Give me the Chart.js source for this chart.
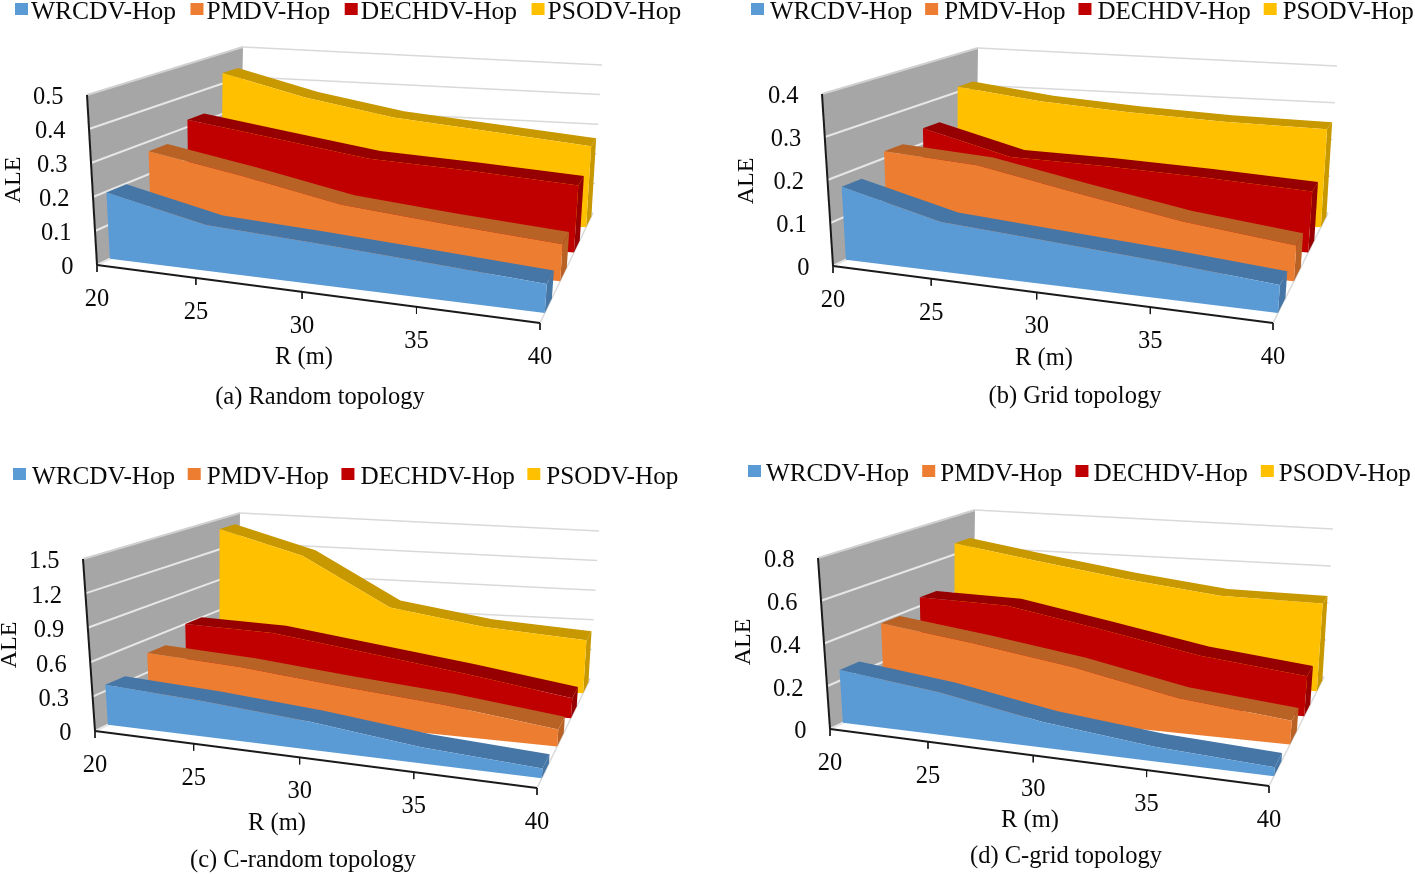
<!DOCTYPE html>
<html>
<head>
<meta charset="utf-8">
<title>ALE vs R</title>
<script src="https://cdn.jsdelivr.net/npm/chart.js@4"></script>
<style>
    html, body { margin: 0; padding: 0; background: #fff; }
    canvas { position: absolute; }
</style>
</head>
<body>
<canvas id="panel-a" width="708" height="437" style="left:0;top:0"></canvas>
<canvas id="panel-b" width="707" height="437" style="left:708px;top:0"></canvas>
<canvas id="panel-c" width="708" height="437" style="left:0;top:437px"></canvas>
<canvas id="panel-d" width="707" height="437" style="left:708px;top:437px"></canvas>
<script>
const seriesNames = ['WRCDV-Hop', 'PMDV-Hop', 'DECHDV-Hop', 'PSODV-Hop'];
const categories = [20, 25, 30, 35, 40];

// values, one list per series and topology
const randomWrcdv = [0.197, 0.13, 0.112, 0.092, 0.071];
const randomPmdv = [0.27, 0.216, 0.155, 0.125, 0.099];
const randomDechdv = [0.323, 0.28, 0.236, 0.219, 0.197];
const randomPsodv = [0.435, 0.368, 0.318, 0.29, 0.26];

const gridWrcdv = [0.172, 0.112, 0.094, 0.076, 0.055];
const gridPmdv = [0.217, 0.199, 0.152, 0.107, 0.077];
const gridDechdv = [0.238, 0.179, 0.172, 0.16, 0.144];
const gridPsodv = [0.314, 0.287, 0.27, 0.258, 0.253];

const cRandomWrcdv = [0.353, 0.3, 0.226, 0.124, 0.071];
const cRandomPmdv = [0.475, 0.42, 0.33, 0.25, 0.137];
const cRandomDechdv = [0.6, 0.57, 0.45, 0.323, 0.176];
const cRandomPsodv = [1.4, 1.18, 0.72, 0.58, 0.51];

const cGridWrcdv = [0.25, 0.193, 0.11, 0.06, 0.035];
const cGridPmdv = [0.39, 0.327, 0.253, 0.155, 0.103];
const cGridDechdv = [0.445, 0.43, 0.343, 0.249, 0.188];
const cGridPsodv = [0.659, 0.589, 0.52, 0.46, 0.45];

const randomTicks = ['0', '0.1', '0.2', '0.3', '0.4', '0.5'];
const gridTicks = ['0', '0.1', '0.2', '0.3', '0.4'];
const cRandomTicks = ['0', '0.3', '0.6', '0.9', '1.2', '1.5'];
const cGridTicks = ['0', '0.2', '0.4', '0.6', '0.8'];

const FRONT_COLORS = ['#5B9BD5', '#ED7D31', '#C00000', '#FFC000'];
const SIDE_COLORS = ['#4676A6', '#B86226', '#960000', '#C89800'];
// where each ribbon starts and ends in depth, 0 = front of the box, 1 = back wall
const DEPTHS = [[0.09, 0.225], [0.38, 0.505], [0.64, 0.75], [0.87, 0.97]];
const FONT = '"Liberation Serif", "Times New Roman", serif';
const TEXT_COLOR = '#0A0A0A';

const panels = [
    {
        id: 'panel-a', left: 0, top: 0, width: 708, height: 437,
        series: [randomWrcdv, randomPmdv, randomDechdv, randomPsodv], ticks: randomTicks,
        box: { flb: [97, 265], flt: [87, 95], blb: [240, 196], blt: [243, 47], frb: [540, 323], frt: [555, 113], brb: [593, 213], brt: [602, 65] },
        legend: { x: 15, y: 19, size: 25.5, textGap: 16, itemGap: 14.5 },
        ale: [14, 180], rTitle: [304, 358], caption: ['(a) Random topology', 320, 398]
    },
    {
        id: 'panel-b', left: 708, top: 0, width: 707, height: 437,
        series: [gridWrcdv, gridPmdv, gridDechdv, gridPsodv], ticks: gridTicks,
        box: { flb: [833, 266], flt: [822, 94], blb: [976, 197], blt: [978, 48], frb: [1273, 323], frt: [1288, 113], brb: [1328, 213], brt: [1337, 66] },
        legend: { x: 751, y: 19, size: 25, textGap: 19, itemGap: 13 },
        ale: [747, 181], rTitle: [1044, 359], caption: ['(b) Grid topology', 1075, 397]
    },
    {
        id: 'panel-c', left: 0, top: 437, width: 708, height: 437,
        series: [cRandomWrcdv, cRandomPmdv, cRandomDechdv, cRandomPsodv], ticks: cRandomTicks,
        box: { flb: [95, 731], flt: [83, 559], blb: [238, 662], blt: [240, 513], frb: [537, 788], frt: [552, 579], brb: [590, 679], brt: [599, 531] },
        legend: { x: 13, y: 484, size: 25.2, textGap: 19, itemGap: 12.5 },
        ale: [10, 645], rTitle: [277, 824], caption: ['(c) C-random topology', 303, 861]
    },
    {
        id: 'panel-d', left: 708, top: 437, width: 707, height: 437,
        series: [cGridWrcdv, cGridPmdv, cGridDechdv, cGridPsodv], ticks: cGridTicks,
        box: { flb: [830, 729], flt: [818, 558], blb: [973, 660], blt: [975, 510], frb: [1269, 786], frt: [1288, 577], brb: [1324, 677], brt: [1333, 529] },
        legend: { x: 748, y: 481, size: 25.2, textGap: 18, itemGap: 13 },
        ale: [744, 642], rTitle: [1030, 821], caption: ['(d) C-grid topology', 1066, 857]
    }
];

const lerp = (a, b, t) => [a[0] + (b[0] - a[0]) * t, a[1] + (b[1] - a[1]) * t];

// R axis is foreshortened towards the left of the box
function warpR(r) {
    const t = (r - categories[0]) / (categories[categories.length - 1] - categories[0]);
    return t / (t + 1.16 * (1 - t));
}

// (R, depth, value) -> position in the page, trilinear inside the box corners
function project(panel, r, depth, value) {
    const b = panel.box;
    const u = warpR(r);
    const h = value / parseFloat(panel.ticks[panel.ticks.length - 1]);
    const bottom = lerp(lerp(b.flb, b.frb, u), lerp(b.blb, b.brb, u), depth);
    const top = lerp(lerp(b.flt, b.frt, u), lerp(b.blt, b.brt, u), depth);
    const p = lerp(bottom, top, h);
    return { x: p[0], y: p[1] };
}

function polygon(data, color, label) {
    return { label: label || '', data: data, polyFill: color, showLine: false, pointRadius: 0 };
}

function line(data, color, width) {
    return { label: '', data: data, showLine: true, borderColor: color, borderWidth: width, pointRadius: 0, fill: false };
}

function buildDatasets(panel) {
    const sets = [];
    const rMin = categories[0];
    const rMax = categories[categories.length - 1];
    const maxValue = parseFloat(panel.ticks[panel.ticks.length - 1]);

    // walls
    sets.push(polygon([project(panel, rMin, 0, 0), project(panel, rMin, 1, 0), project(panel, rMin, 1, maxValue), project(panel, rMin, 0, maxValue)], '#A6A6A6'));
    panel.ticks.forEach(t => {
        const v = parseFloat(t);
        sets.push(line([project(panel, rMin, 0, v), project(panel, rMin, 1, v)], v === maxValue ? '#D0D0D0' : '#E6E6E6', 2));
        sets.push(line([project(panel, rMin, 1, v), project(panel, rMax, 1, v)], '#D9D9D9', 1.5));
    });
    sets.push(line([project(panel, rMax, 0, 0), project(panel, rMax, 1, 0)], '#D9D9D9', 1.5));

    // ribbons, back to front
    for (let i = panel.series.length - 1; i >= 0; i--) {
        const values = panel.series[i];
        const [d1, d2] = DEPTHS[i];
        const frontTop = categories.map((r, k) => project(panel, r, d1, values[k]));
        const backTop = categories.map((r, k) => project(panel, r, d2, values[k]));
        const last = values.length - 1;
        sets.push(polygon([...frontTop, ...backTop.slice().reverse()], SIDE_COLORS[i]));
        sets.push(polygon([project(panel, rMax, d1, values[last]), project(panel, rMax, d2, values[last]), project(panel, rMax, d2, 0), project(panel, rMax, d1, 0)], SIDE_COLORS[i]));
        sets.push(polygon([...frontTop, project(panel, rMax, d1, 0), project(panel, rMin, d1, 0)], FRONT_COLORS[i], seriesNames[i]));
    }

    // axes
    sets.push(line([project(panel, rMin, 0, 0), project(panel, rMin, 0, maxValue)], '#1A1A1A', 2));
    sets.push(line([project(panel, rMin, 0, 0), project(panel, rMax, 0, 0)], '#1A1A1A', 2));
    categories.forEach(r => {
        const p = project(panel, r, 0, 0);
        sets.push(line([p, { x: p.x, y: p.y + 7 }], '#1A1A1A', 1));
    });

    // first dataset has to be painted first
    sets.forEach((s, i) => { s.order = sets.length - i; });
    return sets;
}

const polyFillPlugin = {
    id: 'polyFill',
    beforeDatasetDraw(chart, args) {
        const color = chart.data.datasets[args.index].polyFill;
        if (!color) return;
        const ctx = chart.ctx;
        ctx.save();
        ctx.beginPath();
        args.meta.data.forEach((pt, i) => {
            if (i === 0) ctx.moveTo(pt.x, pt.y);
            else ctx.lineTo(pt.x, pt.y);
        });
        ctx.closePath();
        ctx.fillStyle = color;
        ctx.fill();
        ctx.restore();
    }
};

const labelsPlugin = {
    id: 'panelLabels',
    afterDatasetsDraw(chart) {
        const panel = chart.options.plugins.panelLabels.panel;
        const ctx = chart.ctx;
        const toX = v => chart.scales.x.getPixelForValue(v);
        const toY = v => chart.scales.y.getPixelForValue(v);
        ctx.save();
        ctx.fillStyle = TEXT_COLOR;
        ctx.textBaseline = 'middle';

        // value ticks
        ctx.font = '24.5px ' + FONT;
        ctx.textAlign = 'right';
        panel.ticks.forEach(t => {
            const p = project(panel, categories[0], 0, parseFloat(t));
            ctx.fillText(t, toX(p.x - 23.5), toY(p.y + 3));
        });

        // R ticks
        ctx.textAlign = 'center';
        categories.forEach(r => {
            const p = project(panel, r, 0, 0);
            ctx.fillText(String(r), toX(p.x), toY(p.y + 34.5));
        });

        // titles
        ctx.fillText('R (m)', toX(panel.rTitle[0]), toY(panel.rTitle[1]));
        ctx.font = '24.5px ' + FONT;
        ctx.fillText(panel.caption[0], toX(panel.caption[1]), toY(panel.caption[2]));
        ctx.save();
        ctx.font = '24px ' + FONT;
        ctx.translate(toX(panel.ale[0]), toY(panel.ale[1]));
        ctx.rotate(-Math.PI / 2);
        ctx.fillText('ALE', 0, 0);
        ctx.restore();

        // legend
        ctx.textAlign = 'left';
        ctx.textBaseline = 'alphabetic';
        ctx.font = panel.legend.size + 'px ' + FONT;
        let x = toX(panel.legend.x);
        const y = toY(panel.legend.y);
        seriesNames.forEach((name, i) => {
            ctx.fillStyle = FRONT_COLORS[i];
            ctx.fillRect(x, y - 16, 13, 12);
            ctx.fillStyle = TEXT_COLOR;
            ctx.fillText(name, x + panel.legend.textGap, y);
            x += panel.legend.textGap + ctx.measureText(name).width + panel.legend.itemGap;
        });
        ctx.restore();
    }
};

panels.forEach(panel => {
    new Chart(document.getElementById(panel.id), {
        type: 'scatter',
        data: { datasets: buildDatasets(panel) },
        options: {
            responsive: false,
            animation: false,
            layout: { padding: 0 },
            scales: {
                x: { type: 'linear', display: false, min: panel.left, max: panel.left + panel.width },
                y: { type: 'linear', display: false, reverse: true, min: panel.top, max: panel.top + panel.height }
            },
            plugins: {
                legend: { display: false },
                tooltip: { enabled: false },
                panelLabels: { panel: panel }
            }
        },
        plugins: [polyFillPlugin, labelsPlugin]
    });
});
</script>
</body>
</html>
